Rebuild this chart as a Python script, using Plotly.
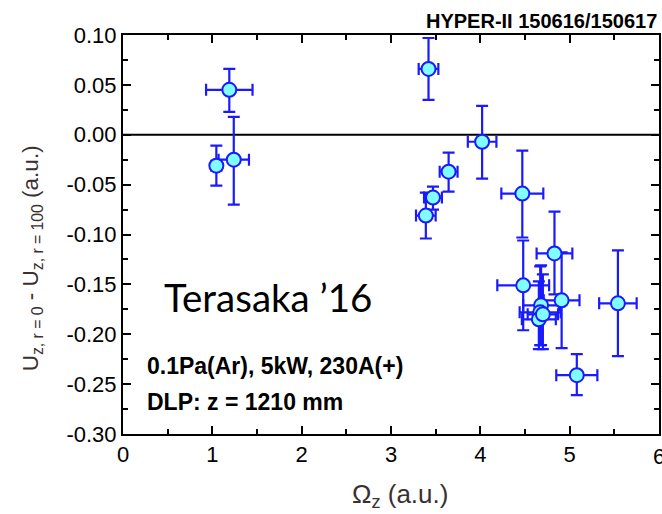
import plotly.graph_objects as go

# ---- data ----
omega_z = [1.19, 1.045, 1.24, 3.42, 4.02, 3.645, 3.47, 3.39, 4.47, 4.48,
           4.83, 4.91, 5.54, 5.08, 4.68, 4.67, 4.655, 4.70]
du = [0.045, -0.031, -0.025, 0.066, -0.007, -0.037, -0.063, -0.081, -0.059, -0.151,
      -0.119, -0.166, -0.169, -0.241, -0.171, -0.178, -0.185, -0.180]
du_err_plus = [0.021, 0.020, 0.043, 0.031, 0.036, 0.019, 0.011, 0.023, 0.043, 0.045,
               0.042, 0.048, 0.053, 0.021, 0.040, 0.046, 0.038, 0.040]
du_err_minus = [0.022, 0.020, 0.045, 0.031, 0.037, 0.020, 0.012, 0.023, 0.044, 0.045,
                0.041, 0.048, 0.053, 0.020, 0.040, 0.033, 0.030, 0.035]
omega_err = [0.26, 0.055, 0.17, 0.11, 0.16, 0.10, 0.10, 0.11, 0.235, 0.29,
             0.20, 0.20, 0.21, 0.23, 0.20, 0.23, 0.19, 0.17]

x_ticks = [0, 1, 2, 3, 4, 5, 6]
y_ticks = [0.10, 0.05, 0.00, -0.05, -0.10, -0.15, -0.20, -0.25, -0.30]
y_tick_text = ["%.2f" % v for v in y_ticks]

BLUE = "#1a1aff"
CYAN = "#80ffff"
FONT = "Liberation Sans, Arial, sans-serif"
TITLE_COLOR = "#3a3030"

# plot-area pixel geometry (for annotation placement)
L, R, T, B = 123, 661, 35, 434
W, H = R - L, B - T


def px(xp):
    return (xp - L) / W


def py(yp):
    return (B - yp) / H


fig = go.Figure()

fig.add_trace(go.Scatter(
    x=omega_z, y=du, mode="markers",
    marker=dict(size=14, color=CYAN, line=dict(color=BLUE, width=2)),
    error_y=dict(type="data", symmetric=False, array=du_err_plus, arrayminus=du_err_minus,
                 color=BLUE, thickness=2.2, width=6),
    error_x=dict(type="data", array=omega_err, color=BLUE, thickness=2.2, width=6),
    showlegend=False,
))

# zero line
fig.add_shape(type="line", xref="paper", yref="y", x0=0, x1=1, y0=0, y1=0,
              line=dict(color="black", width=2), layer="below")

fig.update_layout(
    width=662, height=514,
    margin=dict(l=L, r=662 - R, t=T, b=514 - B),
    paper_bgcolor="white", plot_bgcolor="white",
    font=dict(family=FONT, color="black"),
    xaxis=dict(range=[0, 6], tickvals=x_ticks, ticks="inside", ticklen=8, tickwidth=1.5,
               tickcolor="black", showline=True, linecolor="black", linewidth=2,
               mirror="allticks", showgrid=False, zeroline=False,
               tickfont=dict(size=22, family=FONT),
               minor=dict(ticks="inside", dtick=0.5, ticklen=5, tickwidth=1.5, tickcolor="black")),
    yaxis=dict(range=[-0.3, 0.1], tickvals=y_ticks, ticktext=y_tick_text, ticks="inside",
               ticklen=8, tickwidth=1.5, tickcolor="black", showline=True, linecolor="black",
               linewidth=2, mirror="allticks", showgrid=False, zeroline=False,
               tickfont=dict(size=22, family=FONT),
               minor=dict(ticks="inside", dtick=0.025, ticklen=5, tickwidth=1.5, tickcolor="black")),
)

# last x tick label (partly cut by the canvas edge, as in the reference)
fig.add_annotation(text="6", xref="x", yref="paper", x=6, y=0, yshift=-8,
                   xanchor="center", yanchor="top", showarrow=False,
                   font=dict(size=22, family=FONT, color="black"))

# axis titles
fig.add_annotation(text="Ω<sub>z</sub> (a.u.)", xref="paper", yref="paper",
                   x=px(401), y=py(495), xanchor="center", yanchor="middle", showarrow=False,
                   font=dict(size=26, family=FONT, color=TITLE_COLOR))
fig.add_annotation(text="U<sub>z, r = 0</sub> - U<sub>z, r = 100</sub> (a.u.)",
                   xref="paper", yref="paper", x=px(32), y=py(258), textangle=-90,
                   xanchor="center", yanchor="middle", showarrow=False,
                   font=dict(size=22.5, family=FONT, color=TITLE_COLOR))

fig.add_annotation(text="<b>HYPER-II 150616/150617</b>", xref="paper", yref="paper",
                   x=1.0, y=1.0, xanchor="right", yanchor="bottom", yshift=1, showarrow=False,
                   font=dict(size=20, family=FONT, color="black"))
fig.add_annotation(text="Terasaka \u201916", xref="paper", yref="paper",
                   x=px(162), y=py(297), xanchor="left", yanchor="middle",
                   showarrow=False, font=dict(size=38.5, family="Lato, sans-serif", color="black"))
fig.add_annotation(text="<b>0.1Pa(Ar), 5kW, 230A(+)</b>", xref="paper", yref="paper",
                   x=px(145), y=py(366), xanchor="left", yanchor="middle",
                   showarrow=False, font=dict(size=23, family=FONT, color="black"))
fig.add_annotation(text="<b>DLP: z = 1210 mm</b>", xref="paper", yref="paper",
                   x=px(145), y=py(402), xanchor="left", yanchor="middle",
                   showarrow=False, font=dict(size=23, family=FONT, color="black"))

fig.write_html("out.html")
